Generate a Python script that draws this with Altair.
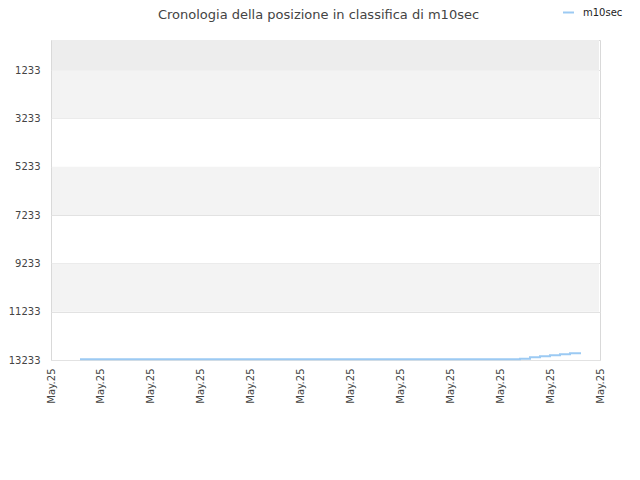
import altair as alt
import pandas as pd

# data
point_index = list(range(51))
ranks = [13204] * 44 + [13179, 13121, 13079, 13037, 12996, 12954, 12912]
series_name = "m10sec"
y_ticks = [1233, 3233, 5233, 7233, 9233, 11233, 13233]
x_label = "May.25"
band_starts = [-17, 1233, 5233, 9233]
band_ends = [1233, 3233, 7233, 11233]
band_colors = ["#ededed", "#f3f3f3", "#f3f3f3", "#f3f3f3"]

x_min, x_max = -2.9, 52.0
n_ticks = 12
x_ticks = [x_min + i * (x_max - x_min) / (n_ticks - 1) for i in range(n_ticks)]

df = pd.DataFrame({"k": point_index, "rank": ranks, "series": [series_name] * len(ranks)})
bands = pd.DataFrame({"y0": band_starts, "y1": band_ends, "c": band_colors})

xscale = alt.Scale(domain=[x_min, x_max], nice=False, zero=False)
yscale = alt.Scale(domain=[-17, 13233], reverse=True, nice=False, zero=False)

band_layer = alt.Chart(bands).mark_rect().encode(
    x=alt.value(1),
    x2=alt.value(548),
    y=alt.Y("y0:Q", scale=yscale),
    y2="y1:Q",
    color=alt.Color("c:N", scale=None),
)

line_layer = alt.Chart(df).mark_line(strokeWidth=2, interpolate="step-after").encode(
    x=alt.X(
        "k:Q",
        scale=xscale,
        axis=alt.Axis(
            values=x_ticks,
            labelExpr=f"'{x_label}'",
            labelAngle=-90,
            title=None,
            grid=False,
            domain=False,
            ticks=False,
            labelFontSize=10,
            labelColor="#444444",
            labelPadding=8,
            labelFont="DejaVu Sans",
        ),
    ),
    y=alt.Y(
        "rank:Q",
        scale=yscale,
        axis=alt.Axis(
            values=y_ticks,
            format="d",
            title=None,
            grid=True,
            gridColor="#e2e2e2",
            domain=False,
            ticks=False,
            labelFontSize=10,
            labelColor="#444444",
            labelPadding=11,
            labelFont="DejaVu Sans",
        ),
    ),
    color=alt.Color(
        "series:N",
        scale=alt.Scale(range=["#9ccaf3"]),
        legend=alt.Legend(
            orient="none",
            legendX=511,
            legendY=-34,
            title=None,
            symbolType="stroke",
            symbolSize=120,
            symbolStrokeWidth=2,
            labelOffset=8,
            labelFontSize=10,
            labelColor="#222222",
            labelFont="DejaVu Sans",
        ),
    ),
)

chart = (
    alt.layer(band_layer, line_layer)
    .properties(
        width=549,
        height=320,
        autosize=alt.AutoSizeParams(type="none"),
        padding={"left": 43, "top": 32, "right": 30, "bottom": 100},
        title=alt.TitleParams(
            "Cronologia della posizione in classifica di m10sec",
            fontSize=13,
            fontWeight="normal",
            color="#444444",
            font="DejaVu Sans",
            anchor="middle",
            frame="group",
            dx=-7,
            offset=-16,
        ),
    )
    .configure_view(stroke="#d9d9d9", strokeWidth=1)
)

chart.save("out.html", embed_options={"renderer": "svg", "actions": False})
